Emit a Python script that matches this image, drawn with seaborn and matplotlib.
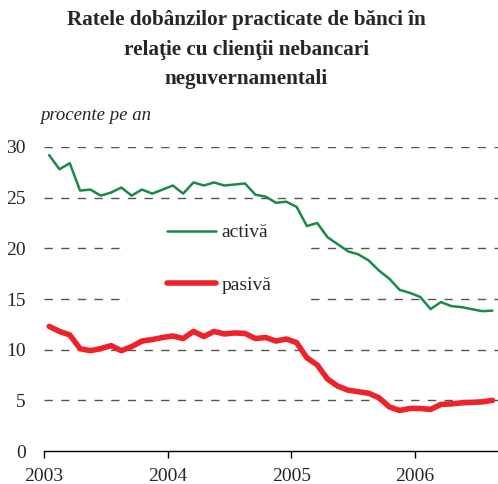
import numpy as np
import pandas as pd
import matplotlib
matplotlib.use("Agg")
import matplotlib.pyplot as plt
import seaborn as sns
from matplotlib.patches import Rectangle
from matplotlib.lines import Line2D

# ---- data (monthly, Jan 2003 - Aug 2006) ----
months = pd.period_range("2003-01", "2006-08", freq="M")
activa = [29.2, 27.8, 28.4, 25.7, 25.8, 25.2, 25.5, 26.0, 25.2, 25.8, 25.4, 25.8,
          26.2, 25.4, 26.5, 26.2, 26.5, 26.2, 26.3, 26.4, 25.3, 25.1, 24.5, 24.6,
          24.1, 22.2, 22.5, 21.1, 20.4, 19.7, 19.4, 18.8, 17.8, 17.0, 15.9, 15.6,
          15.2, 14.0, 14.7, 14.3, 14.2, 14.0, 13.8, 13.85]
pasiva = [12.3, 11.8, 11.45, 10.1, 9.9, 10.1, 10.4, 9.9, 10.3, 10.85, 11.0, 11.2,
          11.35, 11.1, 11.8, 11.3, 11.8, 11.55, 11.65, 11.6, 11.1, 11.2, 10.85, 11.05,
          10.7, 9.2, 8.5, 7.1, 6.4, 6.0, 5.85, 5.7, 5.25, 4.35, 4.0, 4.2,
          4.2, 4.1, 4.6, 4.65, 4.75, 4.8, 4.85, 5.0]
series_names = ["activă", "pasivă"]
year_ticks = [2003, 2004, 2005, 2006]
y_ticks = [0, 5, 10, 15, 20, 25, 30]
title = "Ratele dobânzilor practicate de bănci în\nrelaţie cu clienţii nebancari\nneguvernamentali"
unit_label = "procente pe an"

xpos = np.array([m.year + (m.month - 0.5) / 12 for m in months])
df = pd.DataFrame({
    "x": np.concatenate([xpos, xpos]),
    "val": activa + pasiva,
    "serie": [series_names[0]] * len(xpos) + [series_names[1]] * len(xpos),
})

sns.set_style("white")
plt.rcParams["font.family"] = ["Liberation Serif", "DejaVu Serif"]

fig = plt.figure(figsize=(4.98, 4.84), dpi=100)
ax = fig.add_axes([44 / 498, 33 / 484, 453.6 / 498, 304 / 484])

palette = {series_names[0]: "#1a8a48", series_names[1]: "#ee2229"}
sns.lineplot(data=df, x="x", y="val", hue="serie", palette=palette,
             ax=ax, legend=False, zorder=3)
ax.lines[0].set_linewidth(1.8)
ax.lines[1].set_linewidth(4.0)
for ln in ax.lines:
    ln.set_solid_capstyle("round")
    ln.set_solid_joinstyle("round")

ax.set_xlim(2003, 2006 + 8 / 12)
ax.set_ylim(0, 30)
ax.set_xticks(year_ticks)
ax.set_xticklabels([str(y) for y in year_ticks])
ax.set_yticks(y_ticks)
ax.set_yticklabels([str(y) for y in y_ticks])
ax.set_xlabel("")
ax.set_ylabel("")

for sp in ["top", "right", "left"]:
    ax.spines[sp].set_visible(False)
ax.spines["bottom"].set_color("black")
ax.spines["bottom"].set_linewidth(1.0)
ax.spines["bottom"].set_zorder(4)

ax.tick_params(axis="x", direction="out", length=5, width=1, color="black",
               labelsize=14, pad=7, bottom=True)
ax.tick_params(axis="y", length=0, labelsize=14, pad=13)

for v in y_ticks[1:]:
    ax.axhline(v, color="#555555", lw=1.0, ls=(0, (6, 6)), zorder=1)

# white box behind legend (interrupts gridlines)
ax.add_patch(Rectangle(((128 - 44) / 453.6, (451 - 305) / 304),
                       (305 - 128) / 453.6, (305 - 215) / 304,
                       transform=ax.transAxes, facecolor="white",
                       edgecolor="none", zorder=2))

handles = [Line2D([], [], color=palette[series_names[0]], lw=1.8),
           Line2D([], [], color=palette[series_names[1]], lw=4.0,
                  solid_capstyle="round")]
leg = ax.legend(handles, series_names, loc="center left",
                bbox_to_anchor=((167 - 44) / 453.6, (451 - 259) / 304),
                frameon=False, fontsize=14, handlelength=2.5,
                handletextpad=0.3, labelspacing=1.8, borderpad=0,
                borderaxespad=0)
leg.set_zorder(5)

fig.text(0.494, 0.980, title, ha="center", va="top", fontsize=15.2,
         fontweight="bold", linespacing=1.66)
fig.text(40 / 498, 1 - 115 / 484, unit_label, ha="left", va="center",
         fontsize=13.5, style="italic")

fig.savefig("out.png", dpi=100)
